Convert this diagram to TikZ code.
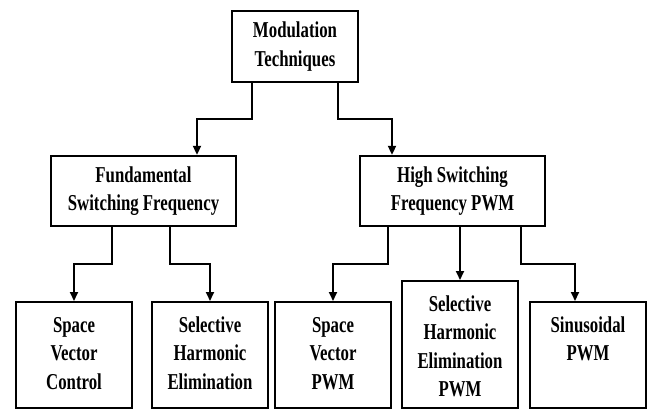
\documentclass[tikz,border=0pt]{standalone}
\usepackage{fontspec}
\setmainfont{Liberation Serif}[FakeStretch=0.74]
\usetikzlibrary{arrows.meta,positioning,calc}

\begin{document}
\begin{tikzpicture}[x=1pt,y=-1pt,
    blk/.style={draw, line width=2.4pt, align=center, inner sep=0pt},
    leaf/.style={draw, line width=2.4pt, align=center, anchor=north, text width=108pt, inner xsep=4pt, inner ysep=14pt, text height=16pt},
    conn/.style={line width=2pt, -{Triangle[length=9pt,width=8pt]}},
    font=\fontsize{22.7}{28.5}\selectfont\bfseries]
    \useasboundingbox (0,0) rectangle (654,410);
    \node[blk, minimum width=126pt, minimum height=71pt] (mod) at (295,46.5) {Modulation\\Techniques};
    \node[blk, minimum width=185pt, minimum height=70pt] (fund) at (143.5,191) {Fundamental\\Switching Frequency};
    \node[blk, minimum width=185pt, minimum height=70pt] (high) at (452.5,191) {High Switching\\Frequency PWM};
    \node[leaf, text depth=62pt] (svc) at (74,301) {Space\\Vector\\Control};
    \node[leaf, text depth=62pt] (she) at (210,301) {Selective\\Harmonic\\Elimination};
    \node[leaf, text depth=62pt] (svp) at (333,301) {Space\\Vector\\PWM};
    \node[leaf, text depth=83pt] (shep) at (460,280) {Selective\\Harmonic\\Elimination\\PWM};
    \node[leaf, text depth=62pt] (spwm) at (588,301) {Sinusoidal\\PWM};
    \draw[conn] ([xshift=-43pt]mod.south) -- ++(0,36) -| ([xshift=53.5pt]fund.north);
    \draw[conn] ([xshift=43pt]mod.south) -- ++(0,36) -| ([xshift=-60.5pt]high.north);
    \draw[conn] ([xshift=-31.5pt]fund.south) -- ++(0,37) -| (svc.north);
    \draw[conn] ([xshift=26.5pt]fund.south) -- ++(0,37) -| (she.north);
    \draw[conn] ([xshift=-64.5pt]high.south) -- ++(0,37) -| (svp.north);
    \draw[conn] (high.south -| shep.north) -- (shep.north);
    \draw[conn] ([xshift=68.5pt]high.south) -- ++(0,37) -| ([xshift=-13pt]spwm.north);
\end{tikzpicture}
\end{document}
